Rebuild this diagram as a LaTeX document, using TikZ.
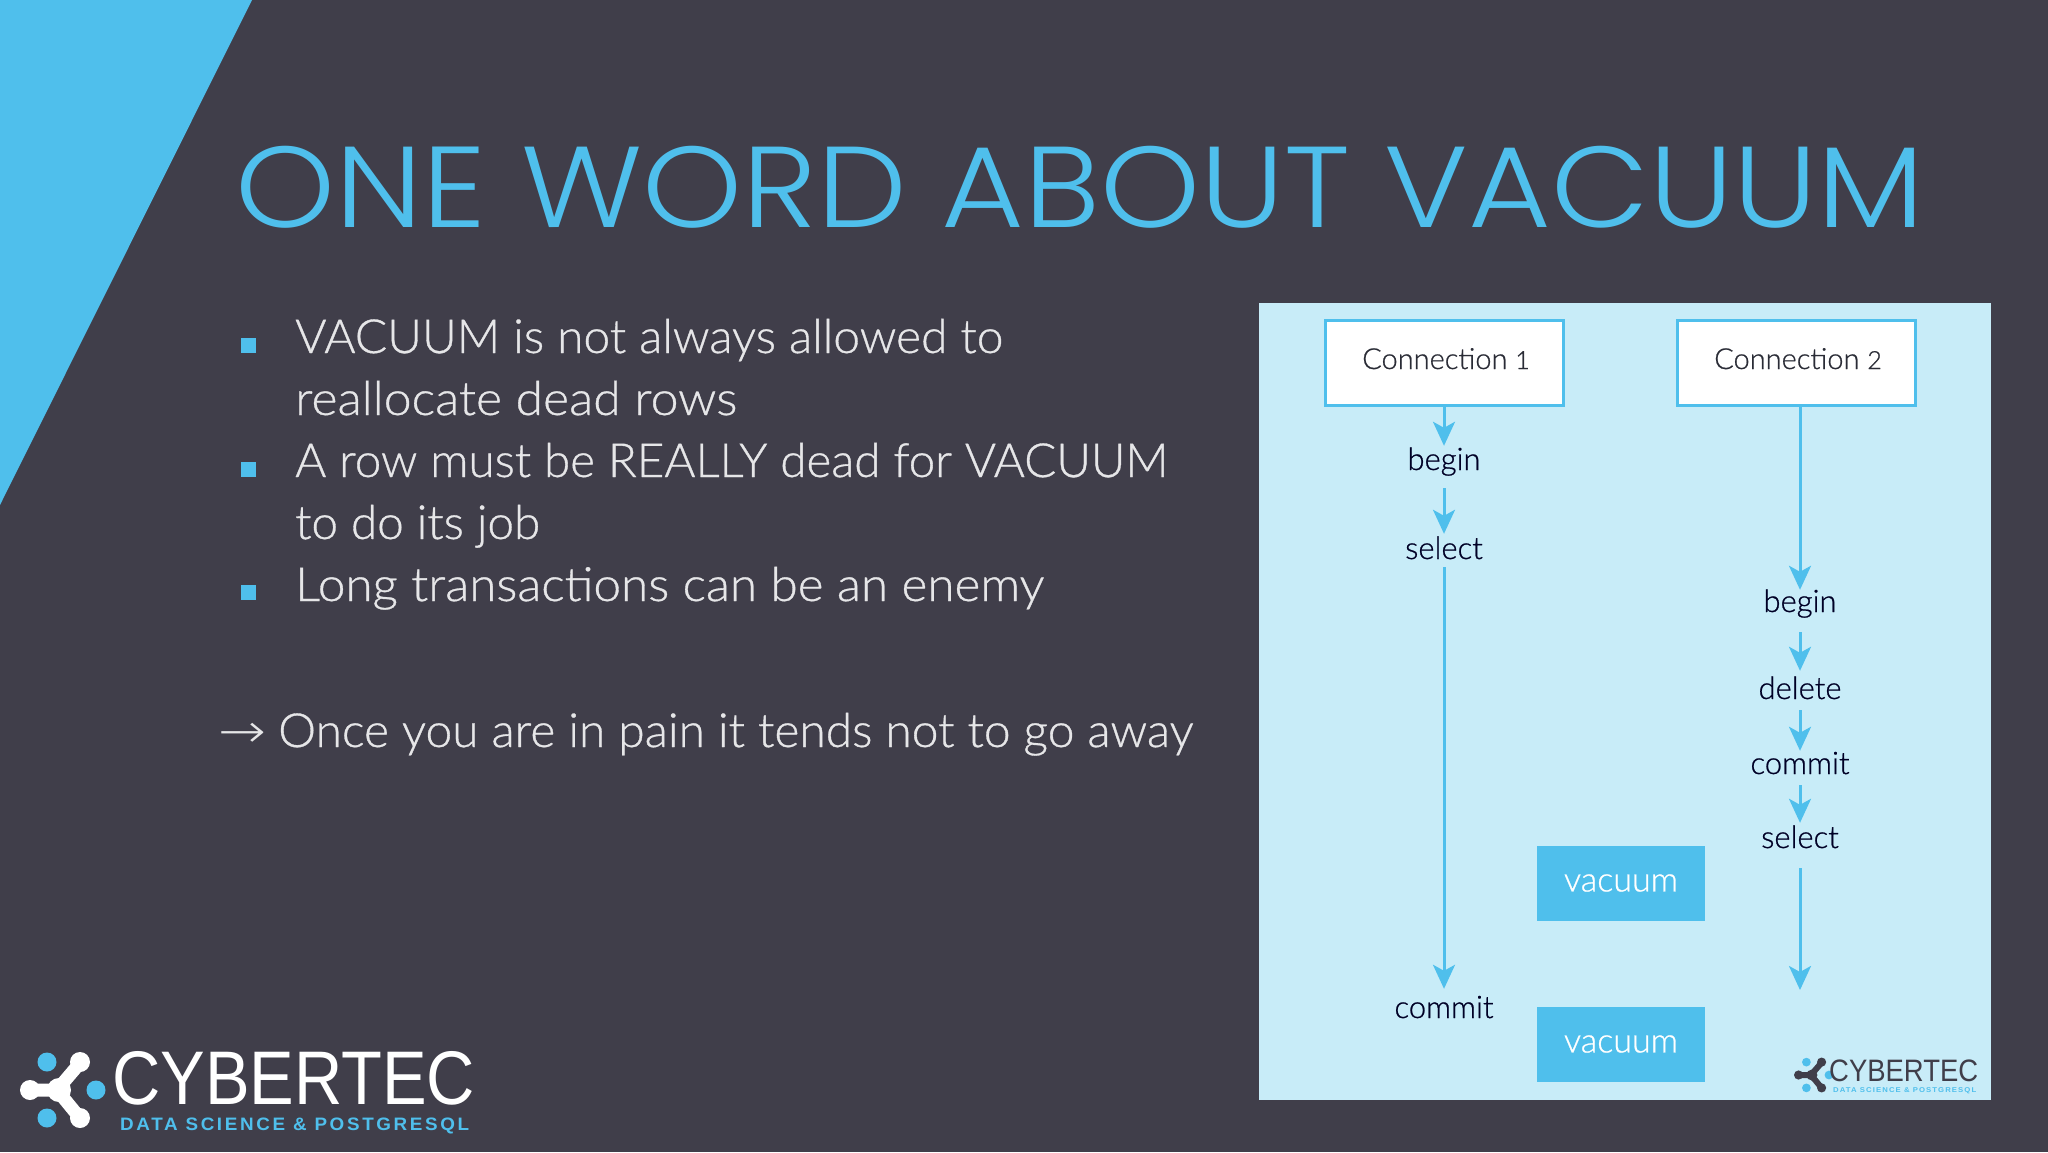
\documentclass[tikz,border=0pt]{standalone}
\usepackage{fontspec,graphicx}
\usetikzlibrary{arrows.meta,calc}
\setmainfont{Lato}
\newfontfamily\bodyf[FakeBold=0.7]{Lato Light}
\newfontfamily\titlef{Poppins Light}
\newfontfamily\logof{Liberation Sans}
\newfontfamily\logob[LetterSpace=14]{Liberation Sans Bold}
\definecolor{bgdark}{HTML}{403E4A}
\definecolor{cyb}{HTML}{4FBFEC}
\definecolor{panelc}{HTML}{C8ECF8}
\definecolor{bodyt}{HTML}{E6E6E8}
\definecolor{inkt}{HTML}{2A2C36}
\newcommand{\fitw}[2]{\resizebox{#1pt}{\height}{#2}}
\newcommand{\olddigit}[1]{{\fontsize{25}{25}\selectfont #1}}
\newcommand{\cyblogo}[5]{% x y scale shapecolor dotcolor
 \begin{scope}[shift={(#1,#2)},scale=#3]
  \draw[#4,line width=#3*13pt,line cap=round,line join=round] (-27,0)--(0,0)--(23,-27) (0,0)--(23,28);
  \fill[#4] (-27,0) circle (10) (23,-28) circle (10) (23,28) circle (10) (2,0) circle (12);
  \fill[#5] (-10,-28) circle (9.5) (39,0) circle (9.5) (-10,28) circle (9.5);
 \end{scope}}
\tikzset{
 bullet/.style={fill=cyb,minimum size=15pt,inner sep=0pt},
 bodyline/.style={anchor=base west,inner sep=0pt,text=bodyt,font=\bodyf\fontsize{47}{47}\selectfont},
 conn/.style={draw=cyb,line width=3pt,fill=white,minimum width=238pt,minimum height=85pt,inner sep=0pt},
 vac/.style={fill=cyb,text=white,minimum width=168pt,minimum height=75pt,inner sep=0pt,font=\bodyf\fontsize{34}{34}\selectfont},
 steplabel/.style={inner sep=0pt,text=black!85!blue,text height=18pt,text depth=8pt,font=\bodyf\fontsize{31}{31}\selectfont},
 flow/.style={draw=cyb,line width=3pt,-{Stealth[length=24pt,width=22pt,inset=6pt]}}
}
\begin{document}
\begin{tikzpicture}[x=1pt,y=-1pt]
\useasboundingbox (0,0) rectangle (2048,1152);
\fill[bgdark] (0,0) rectangle (2048,1152);
\fill[cyb] (0,0)--(252,0)--(0,505)--cycle;
\node[anchor=base west,inner sep=0pt,text=cyb,font=\titlef\fontsize{115}{115}\selectfont] (title) at (235,227) {\fitw{1689}{ONE WORD ABOUT VACUUM}};
\node[bullet] (b1) at (248,345) {};
\node[bullet] (b2) at (248,469) {};
\node[bullet] (b3) at (248,592) {};
\node[bodyline] (l1) at (295,353) {\fitw{708}{VACUUM is not always allowed to}};
\node[bodyline] (l2) at (295,415) {\fitw{442}{reallocate dead rows}};
\node[bodyline] (l3) at (295,477) {\fitw{873}{A row must be REALLY dead for VACUUM}};
\node[bodyline] (l4) at (295,539) {\fitw{245}{to do its job}};
\node[bodyline] (l5) at (295,601) {\fitw{749}{Long transactions can be an enemy}};
\node[bodyline] (ar) at (218,747) {\fitw{48}{{\fontspec{DejaVu Sans ExtraLight}→}}};
\node[bodyline] (l6) at (278,747) {\fitw{915}{Once you are in pain it tends not to go away}};
% panel
\fill[panelc] (1259,303) rectangle (1991,1100);
\node[conn] (c1) at (1444,363) {}; 
\node[conn] (c2) at (1796,363) {};
\node[anchor=base,inner sep=0pt,text=inkt,font=\bodyf\fontsize{29}{29}\selectfont] (c1t) at (1446,369) {Connection \olddigit{1}};
\node[anchor=base,inner sep=0pt,text=inkt,font=\bodyf\fontsize{29}{29}\selectfont] (c2t) at (1798,369) {Connection \olddigit{2}};
\node[steplabel] (begA) at (1444,465) {begin};
\node[steplabel] (selA) at (1444,554) {select};
\node[steplabel] (comA) at (1444,1013) {commit};
\node[steplabel] (begB) at (1800,607) {begin};
\node[steplabel] (delB) at (1800,694) {delete};
\node[steplabel] (comB) at (1800,769) {commit};
\node[steplabel] (selB) at (1800,843) {select};
\coordinate (endB) at (1800,990);
\node[vac] (v1) at (1621,883) {vacuum};
\node[vac] (v2) at (1621,1044) {vacuum};
\draw[flow,shorten >=6pt] (c1.south)--(begA.north);
\draw[flow,shorten <=10pt,shorten >=7pt] (begA.south)--(selA.north);
\draw[flow,shorten >=11pt] (selA.south)--(comA.north);
\draw[flow,shorten >=4pt] (c2.south-|begB)--(begB.north);
\draw[flow,shorten <=12pt,shorten >=10pt] (begB.south)--(delB.north);
\draw[flow,shorten <=3pt,shorten >=5pt] (delB.south)--(comB.north);
\draw[flow,shorten <=3pt,shorten >=7pt] (comB.south)--(selB.north);
\draw[flow,shorten <=12pt] (selB.south)--(endB);
% logos
\cyblogo{57}{1090}{1}{white}{cyb}
\node[anchor=base west,inner sep=0pt,text=white,font=\logof\fontsize{76}{76}\selectfont] (lg) at (112,1104) {\fitw{363}{CYBERTEC}};
\node[anchor=base west,inner sep=0pt,text=cyb,font=\logob\fontsize{18}{18}\selectfont] (lgs) at (120,1130) {\fitw{349}{DATA SCIENCE \& POSTGRESQL}};
\cyblogo{1811}{1075}{0.46}{bgdark}{cyb}
\node[anchor=base west,inner sep=0pt,text=bgdark,font=\logof\fontsize{31}{31}\selectfont] (sg) at (1829,1081) {\fitw{149}{CYBERTEC}};
\node[anchor=base west,inner sep=0pt,text=cyb,font=\logob\fontsize{7}{7}\selectfont] (sgs) at (1833,1092) {\fitw{143}{DATA SCIENCE \& POSTGRESQL}};
\end{tikzpicture}
\end{document}
